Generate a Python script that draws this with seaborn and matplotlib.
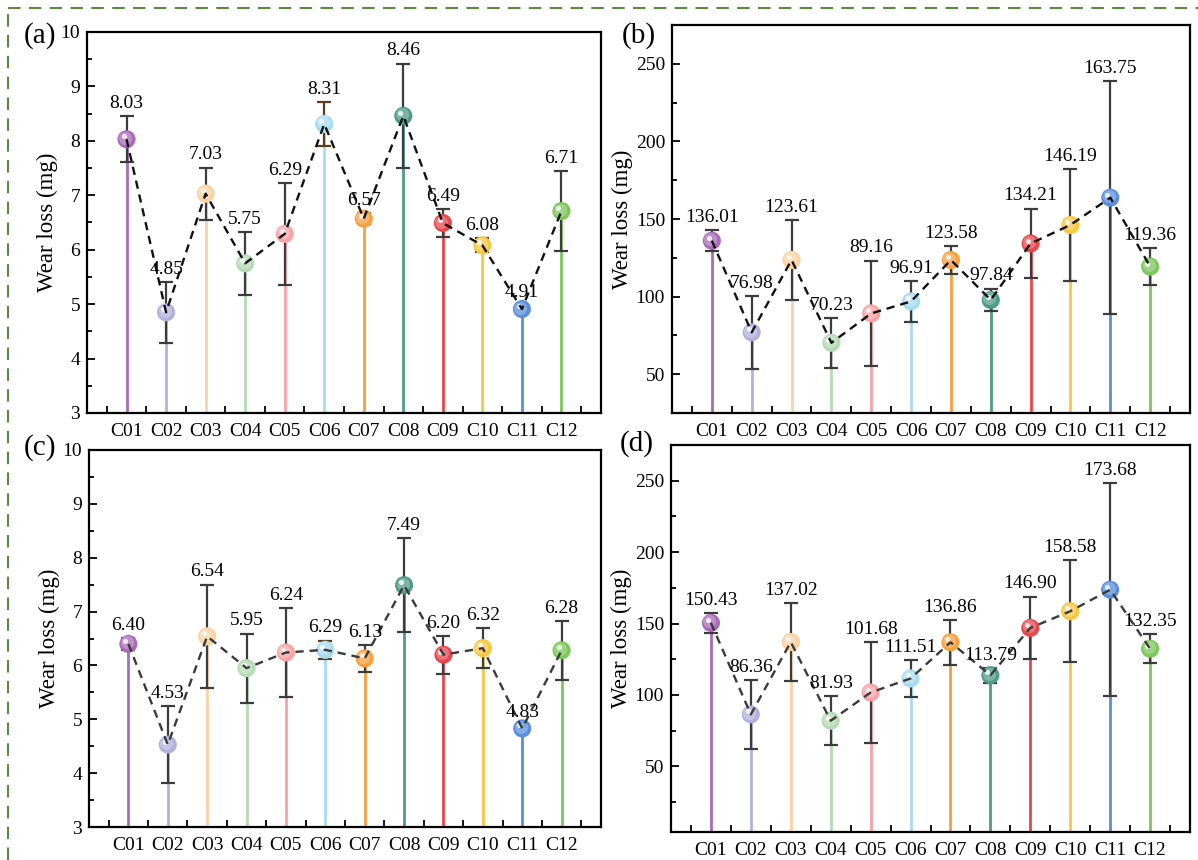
import numpy as np
import pandas as pd
import matplotlib
matplotlib.use("Agg")
import matplotlib.pyplot as plt
import matplotlib.transforms as mtransforms
from matplotlib.lines import Line2D
from matplotlib.ticker import MultipleLocator, FixedLocator
import seaborn as sns

cats=["C01","C02","C03","C04","C05","C06","C07","C08","C09","C10","C11","C12"]
colors=["#a96bb8","#b3b1dc","#fcd2a4","#b5dab4","#f9a2a6","#a8dbf0",
    "#f6a040","#4f9b88","#e8464b","#f7c741","#5a8edc","#7cc65a"]

wear_a=[8.03,4.85,7.03,5.75,6.29,8.31,6.57,8.46,6.49,6.08,4.91,6.71]
err_a=[0.42,0.56,0.48,0.58,0.93,0.40,0.10,0.96,0.25,0.13,0.08,0.73]
wear_b=[136.01,76.98,123.61,70.23,89.16,96.91,123.58,97.84,134.21,146.19,163.75,119.36]
err_b=[6.7,23.5,25.5,16.0,34.0,13.0,9.0,7.3,22.5,36.0,75.0,11.7]
wear_c=[6.40,4.53,6.54,5.95,6.24,6.29,6.13,7.49,6.20,6.32,4.83,6.28]
err_c=[0.11,0.72,0.96,0.64,0.83,0.17,0.25,0.87,0.35,0.37,0.07,0.55]
wear_d=[150.43,86.36,137.02,81.93,101.68,111.51,136.86,113.79,146.90,158.58,173.68,132.35]
err_d=[7.0,24.3,27.0,17.2,35.5,13.0,15.7,5.2,22.0,35.6,74.7,10.3]

sns.set_theme(style="ticks")
plt.rcParams["font.family"]=["Liberation Serif","DejaVu Serif"]
plt.rcParams["text.color"]="black"
plt.rcParams["axes.labelcolor"]="black"
plt.rcParams["xtick.color"]="black"
plt.rcParams["ytick.color"]="black"

fig=plt.figure(figsize=(11.98,8.6),dpi=100)

def panel(rect,vals,errs,ylim,major,minor,line_color,tag,tag_xy,brown6=False):
    ax=fig.add_axes(rect)
    pos=np.arange(1,13)
    df=pd.DataFrame({"pos":pos,"cat":cats,"wear":vals,"err":errs})
    #stems
    ax.vlines(df["pos"],ylim[0],df["wear"],colors=colors,lw=2,zorder=1)
    #error bars
    for i,r in df.iterrows():
        ec="#5a3b1c" if (brown6 and r["cat"]=="C06") else "#3c3c3c"
        ax.errorbar(r["pos"],r["wear"],yerr=r["err"],color=ec,capsize=5,
            capthick=1.6,elinewidth=1.6,zorder=2)
    #balls
    sns.scatterplot(data=df,x="pos",y="wear",hue="cat",palette=colors,
        s=170,edgecolor="none",legend=False,ax=ax,zorder=3)
    off=mtransforms.offset_copy(ax.transData,fig=fig,x=-1.5,y=1.5,units="dots")
    ax.scatter(df["pos"],df["wear"],s=90,c="white",alpha=0.25,lw=0,transform=off,zorder=4)
    off2=mtransforms.offset_copy(ax.transData,fig=fig,x=-3,y=3,units="dots")
    ax.scatter(df["pos"],df["wear"],s=14,c="white",alpha=0.8,lw=0,transform=off2,zorder=4)
    #dashed trend
    sns.lineplot(data=df,x="pos",y="wear",color=line_color,lw=1.7,
        linestyle=(0,(3.5,2.5)),ax=ax,zorder=5)
    #value labels
    for i,r in df.iterrows():
        ax.annotate(f"{r['wear']:.2f}",(r["pos"],r["wear"]+r["err"]),xytext=(0,3),
            textcoords="offset points",ha="center",va="bottom",fontsize=14,zorder=6)
    ax.set_xlim(0,13)
    ax.set_ylim(*ylim)
    ax.xaxis.set_major_locator(FixedLocator(pos))
    ax.set_xticklabels(cats)
    ax.xaxis.set_minor_locator(FixedLocator(np.arange(0.5,13,1)))
    ax.yaxis.set_major_locator(MultipleLocator(major))
    ax.yaxis.set_minor_locator(MultipleLocator(minor))
    ax.tick_params(axis="x",which="major",length=0,labelsize=14,pad=7)
    ax.tick_params(axis="x",which="minor",direction="in",length=5,width=1.3)
    ax.tick_params(axis="y",which="major",direction="in",length=6,width=1.3,labelsize=14,pad=5)
    ax.tick_params(axis="y",which="minor",direction="in",length=3.5,width=1.3)
    for s in ax.spines.values():
        s.set_linewidth(1.6)
        s.set_color("black")
    ax.set_xlabel("")
    ax.set_ylabel("Wear loss (mg)",fontsize=16.5,labelpad=2)
    fig.text(tag_xy[0],tag_xy[1],tag,fontsize=21,va="center",ha="left")
    return ax

W,H=1198,860
def rect(l,r,t,b):
    return [l/W,1-b/H,(r-l)/W,(b-t)/H]

panel(rect(87,601,32,413),wear_a,err_a,(3,10),1,0.5,"#111111","(a)",(24/W,1-36/H),brown6=True)
panel(rect(672,1190,25,413),wear_b,err_b,(25,275),50,25,"#111111","(b)",(622/W,1-36/H))
panel(rect(89,601,450,827),wear_c,err_c,(3,10),1,0.5,"#3a3a3a","(c)",(24/W,1-448/H),brown6=True)
panel(rect(671,1190,445,832),wear_d,err_d,(4,275),50,25,"#3a3a3a","(d)",(620/W,1-444/H))

#green dashed frame
fc="#5c8a3c"
fig.add_artist(Line2D([8/W,1],[1-8/H,1-8/H],color=fc,lw=1.5,linestyle=(0,(6,4))))
fig.add_artist(Line2D([8/W,8/W],[0,1-8/H],color=fc,lw=1.5,linestyle=(0,(6,4))))

fig.savefig("out.png",dpi=100)
